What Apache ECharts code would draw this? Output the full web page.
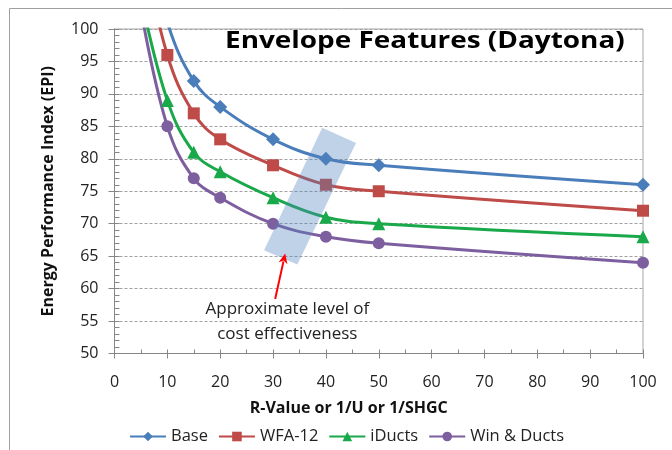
<!DOCTYPE html>
<html>
<head>
<meta charset="utf-8">
<script src="https://cdn.jsdelivr.net/npm/echarts@6/dist/echarts.min.js"></script>
<style>
html,body{margin:0;padding:0;background:#fff;}
#c{width:672px;height:450px;}
</style>
</head>
<body>
<div id="c"></div>
<script>
// ---- data ----
const xBase   = [5, 10, 15, 20, 30, 40, 50, 100];
const base    = [117, 101, 92, 88, 83, 80, 79, 76];
const wfa12   = [114, 96, 87, 83, 79, 76, 75, 72];
const iducts  = [105, 89, 81, 78, 74, 71, 70, 68];
const winDucts= [103, 85, 77, 74, 70, 68, 67, 64];
const seriesNames = ['Base', 'WFA-12', 'iDucts', 'Win & Ducts'];
const titleText = 'Envelope Features (Daytona)';
const xAxisTitle = 'R-Value or 1/U or 1/SHGC';
const yAxisTitle = 'Energy Performance Index (EPI)';
const noteText = 'Approximate level of\ncost effectiveness';
// annotation geometry in data units (x, EPI)
const bandCorners = [[28.3, 65.9], [39.3, 84.8], [45.7, 82.45], [34.6, 63.7]];
const arrowPts = [[30.4, 58.4], [32.3, 65.4]];
const notePos = [32.7, 58.7];

const FONT = '"Open Sans", "Liberation Sans", sans-serif';
const colors = ['#4A7EBB', '#BE4B48', '#19A84A', '#7D5FA0'];
const symbols = ['diamond', 'rect', 'triangle', 'circle'];
const symbolSizes = [14, 12, 13, 12];
const allData = [base, wfa12, iducts, winDucts];

function pairs(xs, ys) { return xs.map((x, i) => [x, ys[i]]); }

const lineSeries = seriesNames.map((name, i) => ({
  name: name,
  type: 'line',
  xAxisIndex: 0,
  yAxisIndex: 0,
  data: pairs(xBase, allData[i]),
  smooth: 0.4,
  clip: true,
  symbol: symbols[i],
  symbolSize: symbolSizes[i],
  color: colors[i],
  lineStyle: { width: 3, color: colors[i] },
  itemStyle: { color: colors[i] },
  emphasis: { disabled: true },
  z: 2
}));

const annotation = {
  type: 'custom',
  coordinateSystem: 'cartesian2d',
  xAxisIndex: 0,
  yAxisIndex: 0,
  silent: true,
  z: 5,
  data: [[0, 0]],
  renderItem: function (params, api) {
    const poly = bandCorners.map(p => api.coord(p));
    const t = api.coord(arrowPts[0]);
    const h = api.coord(arrowPts[1]);
    const dx = h[0] - t[0], dy = h[1] - t[1];
    const L = Math.sqrt(dx * dx + dy * dy);
    const ux = dx / L, uy = dy / L;
    const hl = 10, hw = 4.5;
    const bx = h[0] - ux * hl, by = h[1] - uy * hl;
    const np = api.coord(notePos);
    return {
      type: 'group',
      children: [
        { type: 'polygon', shape: { points: poly }, style: { fill: 'rgba(79,129,189,0.36)', stroke: 'none' } },
        { type: 'line', shape: { x1: t[0], y1: t[1], x2: bx + ux * 2, y2: by + uy * 2 }, style: { stroke: '#FF0000', lineWidth: 2 } },
        { type: 'polygon', shape: { points: [[h[0], h[1]], [bx - uy * hw, by + ux * hw], [bx + ux * 3, by + uy * 3], [bx + uy * hw, by - ux * hw]] }, style: { fill: '#FF0000' } },
        { type: 'text', style: { text: noteText, x: np[0], y: np[1], align: 'center', verticalAlign: 'top', font: '17px ' + FONT, fill: '#222', lineHeight: 25 } }
      ]
    };
  }
};

const chart = echarts.init(document.getElementById('c'), null, { renderer: 'canvas' });
chart.setOption({
  animation: false,
  backgroundColor: '#fff',
  textStyle: { fontFamily: FONT },
  legend: {
    data: seriesNames,
    left: 129, top: 428, padding: 0,
    itemWidth: 36, itemHeight: 12, itemGap: 10,
    textStyle: { fontFamily: FONT, fontSize: 16.5, color: '#222' }
  },
  grid: {
    left: 114.5, right: 29, top: 29, bottom: 96.5,
    show: true, borderColor: '#A6A6A6', borderWidth: 1, backgroundColor: 'transparent'
  },
  graphic: [{
    type: 'rect', silent: true,
    shape: { x: 9.5, y: 8.5, width: 800, height: 600 },
    style: { fill: 'none', stroke: '#A0A0A0', lineWidth: 1 }
  }, {
    type: 'text', silent: true,
    x: 225, y: 42, scaleX: 1.24, scaleY: 1,
    style: { text: titleText, x: 0, y: 0, align: 'left', verticalAlign: 'middle', font: 'bold 22.5px ' + FONT, fill: '#000' },
    z: 10
  }],
  xAxis: [{
    type: 'value', min: 0, max: 100, interval: 10,
    name: xAxisTitle, nameLocation: 'middle', nameGap: 47,
    nameTextStyle: { fontFamily: FONT, fontSize: 16, fontWeight: 'bold', color: '#111', padding: [0, 60, 0, 0] },
    axisLine: { show: true, lineStyle: { color: '#868686', width: 1 } },
    axisTick: { show: true, inside: true, length: 4, lineStyle: { color: '#868686' } },
    minorTick: { show: true, splitNumber: 2, length: 4, lineStyle: { color: '#868686' } },
    axisLabel: { fontFamily: FONT, fontSize: 16, color: '#222', margin: 21 },
    splitLine: { show: false }
  }, {
    type: 'value', min: 0, max: 100, interval: 10, position: 'bottom',
    axisLine: { show: false },
    axisTick: { show: true, inside: false, length: 5, lineStyle: { color: '#868686' } },
    axisLabel: { show: false },
    splitLine: { show: false }
  }],
  yAxis: [{
    type: 'value', min: 50, max: 100, interval: 5,
    name: yAxisTitle, nameLocation: 'middle', nameGap: 58, nameRotate: 90,
    nameTextStyle: { fontFamily: FONT, fontSize: 16, fontWeight: 'bold', color: '#111' },
    axisLine: { show: true, lineStyle: { color: '#868686', width: 1 } },
    axisTick: { show: true, inside: true, length: 5, lineStyle: { color: '#868686' } },
    minorTick: { show: true, splitNumber: 5, length: 5, lineStyle: { color: '#868686' } },
    axisLabel: { fontFamily: FONT, fontSize: 16, color: '#222', margin: 16 },
    splitLine: { show: true, lineStyle: { color: '#A0A0A0', type: [3, 2], width: 1 } }
  }, {
    type: 'value', min: 50, max: 100, interval: 5, position: 'left',
    axisLine: { show: false },
    axisTick: { show: true, inside: false, length: 6, lineStyle: { color: '#868686' } },
    axisLabel: { show: false },
    splitLine: { show: false }
  }],
  series: lineSeries.concat([annotation])
});
</script>
</body>
</html>
